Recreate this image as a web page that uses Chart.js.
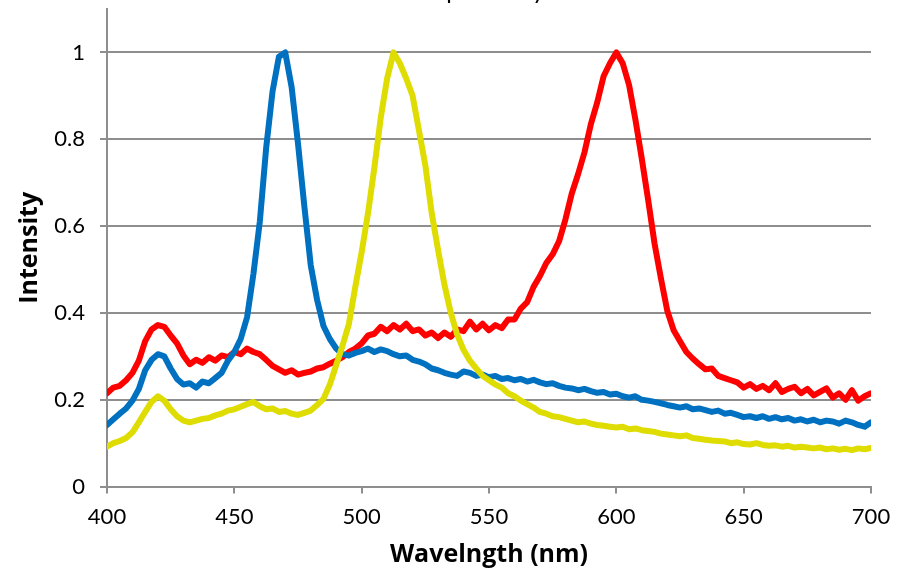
<!DOCTYPE html>
<html>
<head>
<meta charset="utf-8">
<title>Spectra</title>
<script src="https://cdn.jsdelivr.net/npm/chart.js@4.4.0/dist/chart.umd.min.js"></script>
<style>
  html, body { margin: 0; padding: 0; background: #fff; }
  #wrap { width: 908px; height: 570px; }
</style>
</head>
<body>
<div id="wrap"><canvas id="myChart" width="908" height="570"></canvas></div>
<script>
// title is cut off at the top of the picture, only descenders show
const chartTitle = 'Spectra by';

const wavelengths = [
  400, 402.5, 405, 407.5, 410, 412.5, 415, 417.5, 420, 422.5,
  425, 427.5, 430, 432.5, 435, 437.5, 440, 442.5, 445, 447.5,
  450, 452.5, 455, 457.5, 460, 462.5, 465, 467.5, 470, 472.5,
  475, 477.5, 480, 482.5, 485, 487.5, 490, 492.5, 495, 497.5,
  500, 502.5, 505, 507.5, 510, 512.5, 515, 517.5, 520, 522.5,
  525, 527.5, 530, 532.5, 535, 537.5, 540, 542.5, 545, 547.5,
  550, 552.5, 555, 557.5, 560, 562.5, 565, 567.5, 570, 572.5,
  575, 577.5, 580, 582.5, 585, 587.5, 590, 592.5, 595, 597.5,
  600, 602.5, 605, 607.5, 610, 612.5, 615, 617.5, 620, 622.5,
  625, 627.5, 630, 632.5, 635, 637.5, 640, 642.5, 645, 647.5,
  650, 652.5, 655, 657.5, 660, 662.5, 665, 667.5, 670, 672.5,
  675, 677.5, 680, 682.5, 685, 687.5, 690, 692.5, 695, 697.5,
  700
];

const redSeries = [
  0.215, 0.228, 0.232, 0.245, 0.262, 0.29, 0.335, 0.362, 0.372, 0.368,
  0.348, 0.33, 0.302, 0.282, 0.292, 0.285, 0.298, 0.29, 0.302, 0.298,
  0.31, 0.305, 0.318, 0.31, 0.305, 0.292, 0.278, 0.27, 0.262, 0.268,
  0.258, 0.262, 0.265, 0.272, 0.275, 0.283, 0.29, 0.298, 0.31, 0.318,
  0.33, 0.348, 0.352, 0.368, 0.358, 0.372, 0.362, 0.375, 0.358, 0.362,
  0.348, 0.355, 0.342, 0.355, 0.345, 0.362, 0.358, 0.38, 0.362, 0.375,
  0.36, 0.372, 0.365, 0.385, 0.385, 0.41, 0.425, 0.46, 0.485, 0.515,
  0.535, 0.565, 0.615, 0.675, 0.72, 0.77, 0.835, 0.885, 0.945, 0.975,
  1.0, 0.975, 0.925, 0.845, 0.755, 0.66, 0.56, 0.48, 0.405, 0.36,
  0.335, 0.31, 0.295, 0.282, 0.27, 0.272, 0.255, 0.25, 0.245, 0.24,
  0.228, 0.236, 0.225, 0.232, 0.222, 0.238, 0.218, 0.225, 0.23, 0.215,
  0.225, 0.21, 0.218, 0.226, 0.205, 0.215, 0.2, 0.222, 0.198, 0.208,
  0.215
];

const blueSeries = [
  0.142, 0.155, 0.168, 0.18, 0.198, 0.225, 0.268, 0.292, 0.305, 0.3,
  0.272, 0.248, 0.235, 0.238, 0.228, 0.242, 0.238, 0.25, 0.262, 0.29,
  0.31, 0.34, 0.39, 0.49, 0.61, 0.78, 0.91, 0.99, 1.0, 0.92,
  0.79, 0.645, 0.51, 0.43, 0.37, 0.34, 0.318, 0.305, 0.302, 0.308,
  0.312, 0.318, 0.31, 0.316, 0.312, 0.305, 0.3, 0.302, 0.292, 0.288,
  0.282, 0.272, 0.268, 0.262, 0.258, 0.255, 0.265, 0.262, 0.255, 0.258,
  0.252, 0.255, 0.248, 0.25, 0.245, 0.248, 0.242, 0.246, 0.24, 0.236,
  0.238, 0.232, 0.228, 0.226, 0.222, 0.225, 0.22, 0.216, 0.218, 0.212,
  0.214, 0.208, 0.205, 0.208, 0.2, 0.198, 0.195, 0.192, 0.188, 0.185,
  0.182, 0.185, 0.178, 0.18, 0.176, 0.172, 0.175, 0.168, 0.17, 0.165,
  0.16, 0.162, 0.158, 0.162, 0.156, 0.16, 0.155, 0.158, 0.152, 0.155,
  0.15, 0.154, 0.148, 0.152, 0.15, 0.145, 0.152, 0.148, 0.142, 0.138,
  0.148
];

const yellowSeries = [
  0.092, 0.1, 0.105, 0.112, 0.125, 0.148, 0.172, 0.195, 0.208, 0.198,
  0.178, 0.162, 0.152, 0.148, 0.152, 0.156, 0.158, 0.164, 0.168, 0.175,
  0.178, 0.184, 0.19, 0.195, 0.185, 0.178, 0.18, 0.172, 0.174, 0.168,
  0.165, 0.17, 0.175, 0.188, 0.202, 0.235, 0.28, 0.325, 0.375, 0.46,
  0.54, 0.63, 0.735, 0.85, 0.94, 1.0, 0.975, 0.94, 0.9, 0.82,
  0.74, 0.63, 0.545, 0.465, 0.4, 0.35, 0.315, 0.29, 0.272, 0.255,
  0.245, 0.235, 0.228, 0.215, 0.208, 0.198, 0.19, 0.182, 0.172, 0.168,
  0.162, 0.16, 0.156, 0.152, 0.148, 0.15, 0.145, 0.142, 0.14, 0.138,
  0.136, 0.138, 0.132, 0.134, 0.13, 0.128, 0.126, 0.122, 0.12, 0.118,
  0.116, 0.118, 0.112, 0.11, 0.108, 0.106, 0.105, 0.104, 0.1, 0.102,
  0.098, 0.097, 0.1, 0.096, 0.094, 0.095, 0.092, 0.094, 0.09, 0.092,
  0.09, 0.088, 0.09, 0.086, 0.088, 0.085, 0.087, 0.084, 0.088, 0.086,
  0.089
];

const FONT = 'Lato, "Open Sans", sans-serif';
const TITLE_FONT = '"Open Sans", Lato, sans-serif';
const GRID = '#8e8e8e';

function pairs(values) {
  return wavelengths.map((w, i) => ({x: w, y: values[i]}));
}

function line(values, color) {
  return {
    data: pairs(values),
    borderColor: color,
    backgroundColor: color,
    borderWidth: 6,
    pointRadius: 0,
    tension: 0,
    fill: false,
    borderJoinStyle: 'round',
    borderCapStyle: 'round'
  };
}

const cutTitle = {
  id: 'cutTitle',
  afterDraw(chart) {
    const {ctx, chartArea} = chart;
    ctx.save();
    ctx.font = '24px ' + FONT;
    ctx.fillStyle = '#000';
    ctx.textAlign = 'center';
    ctx.textBaseline = 'alphabetic';
    ctx.fillText(chartTitle, (chartArea.left + chartArea.right) / 2, -1);
    ctx.restore();
  }
};

// first dataset is drawn on top
const config = {
  type: 'line',
  data: {
    datasets: [
      line(yellowSeries, '#DEDC00'),
      line(blueSeries, '#0070C0'),
      line(redSeries, '#FF0000')
    ]
  },
  options: {
    responsive: false,
    animation: false,
    devicePixelRatio: 1,
    layout: {padding: {top: 9, right: 37, left: 0, bottom: 0}},
    plugins: {
      legend: {display: false},
      tooltip: {enabled: false}
    },
    scales: {
      x: {
        type: 'linear',
        min: 400,
        max: 700,
        ticks: {
          stepSize: 50,
          color: '#000',
          padding: 10,
          maxRotation: 0,
          font: {family: FONT, size: 22}
        },
        grid: {drawOnChartArea: false, drawTicks: true, tickLength: 7, color: GRID, lineWidth: 2},
        border: {color: GRID, width: 2},
        title: {
          display: true,
          text: 'Wavelngth (nm)',
          color: '#000',
          padding: {top: 0, bottom: 0},
          font: {family: TITLE_FONT, size: 25, weight: 'bold'}
        }
      },
      y: {
        min: 0,
        max: 1.1,
        afterFit: s => { s.width = 107; s.paddingTop = 0; },
        ticks: {
          stepSize: 0.2,
          includeBounds: false,
          color: '#000',
          padding: 15,
          font: {family: FONT, size: 22},
          callback: v => Number(v.toFixed(1)).toString()
        },
        grid: {tickLength: 7, color: GRID, lineWidth: 2},
        border: {color: GRID, width: 2},
        title: {
          display: true,
          text: 'Intensity',
          color: '#000',
          padding: {top: 15, bottom: 0},
          font: {family: TITLE_FONT, size: 25, weight: 'bold'}
        }
      }
    }
  },
  plugins: [cutTitle]
};

const myChart = new Chart(document.getElementById('myChart'), config);
</script>
</body>
</html>
